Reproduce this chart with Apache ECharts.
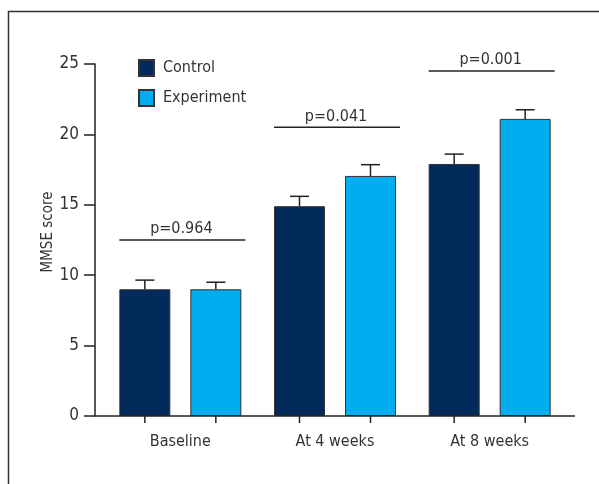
<!DOCTYPE html>
<html><head><meta charset="utf-8">
<script src="https://cdn.jsdelivr.net/npm/echarts@6/dist/echarts.min.js"></script>
<style>html,body{margin:0;padding:0;background:#fff}#c{width:599px;height:484px}</style>
</head><body><div id="c"></div>
<script>
const categories = ['Baseline', 'At 4 weeks', 'At 8 weeks'];
const controlMean = [9.0, 14.9, 17.9];
const controlErr = [0.65, 0.7, 0.7];
const experimentMean = [9.0, 17.05, 21.1];
const experimentErr = [0.5, 0.8, 0.65];
const sigLevel = [12.5, 20.5, 24.5];
const sigLabels = ['p=0.964', 'p=0.041', 'p=0.001'];
const yMin = 0, yMax = 25, yStep = 5;

const FONT = "'Liberation Sans Narrow', 'DejaVu Sans Condensed', 'Roboto', sans-serif";
const TXT = '#333';
const INK = '#222';
const FS = 16;
const BAR_W = 51, BAR_GAP = 20;
const OFFSET = (BAR_W + BAR_GAP) / 2;

function errRender(sign) {
  return function (params, api) {
    const i = api.value(0);
    const base = api.coord([i, api.value(1)]);
    const top = api.coord([i, api.value(1) + api.value(2)]);
    const zero = api.coord([i, 0]);
    const x = base[0] + sign * OFFSET;
    const st = { stroke: INK, lineWidth: 1.5 };
    return { type: 'group', children: [
      { type: 'line', shape: { x1: x, y1: base[1], x2: x, y2: top[1] }, style: st },
      { type: 'line', shape: { x1: x - 9.5, y1: top[1], x2: x + 9.5, y2: top[1] }, style: st },
      { type: 'line', shape: { x1: x, y1: zero[1], x2: x, y2: zero[1] + 7 }, style: st }
    ]};
  };
}

const chart = echarts.init(document.getElementById('c'), null, { renderer: 'canvas' });
chart.setOption({
  animation: false,
  backgroundColor: '#fff',
  textStyle: { fontFamily: FONT },
  graphic: [{
    type: 'polyline', silent: true,
    shape: { points: [[600, 11.5], [8.5, 11.5], [8.5, 490]] },
    style: { stroke: '#333', lineWidth: 1.5, fill: null }
  }],
  legend: {
    orient: 'vertical', left: 138, top: 59, padding: 0, icon: 'rect',
    itemWidth: 15, itemHeight: 16, itemGap: 12,
    textStyle: { fontFamily: FONT, fontSize: FS, color: TXT, padding: [0, 0, 0, 4] },
    data: ['Control', 'Experiment']
  },
  grid: { left: 103, right: 32, top: 64, bottom: 68, containLabel: false },
  xAxis: {
    type: 'category', data: categories,
    axisLine: { show: false }, axisTick: { show: false },
    axisLabel: { fontFamily: FONT, fontSize: FS, color: TXT, margin: 18 }
  },
  yAxis: {
    type: 'value', min: yMin, max: yMax, interval: yStep, offset: 8,
    name: 'MMSE score', nameLocation: 'middle', nameGap: 39, nameMoveOverlap: false,
    nameTextStyle: { fontFamily: FONT, fontSize: 15, color: TXT, padding: [0, 0, 0, 16] },
    axisLine: { show: true, lineStyle: { color: INK, width: 1.5 } },
    axisTick: { show: true, length: 11, lineStyle: { color: INK, width: 1.5 } },
    axisLabel: { fontFamily: FONT, fontSize: 17, color: TXT, margin: 16 },
    splitLine: { show: false }
  },
  series: [
    { name: 'Control', type: 'bar', data: controlMean, barWidth: BAR_W, barGap: (BAR_GAP / BAR_W * 100) + '%',
      itemStyle: { color: '#022a5a', borderColor: '#333', borderWidth: 1 } },
    { name: 'Experiment', type: 'bar', data: experimentMean, barWidth: BAR_W,
      itemStyle: { color: '#00adee', borderColor: '#333', borderWidth: 1 } },
    { type: 'custom', renderItem: errRender(-1), z: 5,
      data: controlMean.map((m, i) => [i, m, controlErr[i]]) },
    { type: 'custom', renderItem: errRender(1), z: 5,
      data: experimentMean.map((m, i) => [i, m, experimentErr[i]]) },
    { type: 'custom', z: 5, data: [[0]],
      renderItem: function (params) {
        const cs = params.coordSys;
        const y = cs.y + cs.height;
        return { type: 'line', shape: { x1: cs.x - 8, y1: y, x2: cs.x + cs.width + 8, y2: y },
          style: { stroke: INK, lineWidth: 1.5 } };
      } },
    { type: 'custom', z: 5, data: sigLevel.map((v, i) => [i, v]),
      renderItem: function (params, api) {
        const i = api.value(0);
        const c = api.coord([i, api.value(1)]);
        return { type: 'group', children: [
          { type: 'line', shape: { x1: c[0] - 61, y1: c[1], x2: c[0] + 65, y2: c[1] },
            style: { stroke: INK, lineWidth: 1.5 } },
          { type: 'text', x: c[0] + 1, y: c[1] - 3,
            style: { text: sigLabels[i], fontFamily: FONT, fontSize: FS, fill: TXT,
              align: 'center', verticalAlign: 'bottom' } }
        ]};
      } }
  ]
});
</script></body></html>
